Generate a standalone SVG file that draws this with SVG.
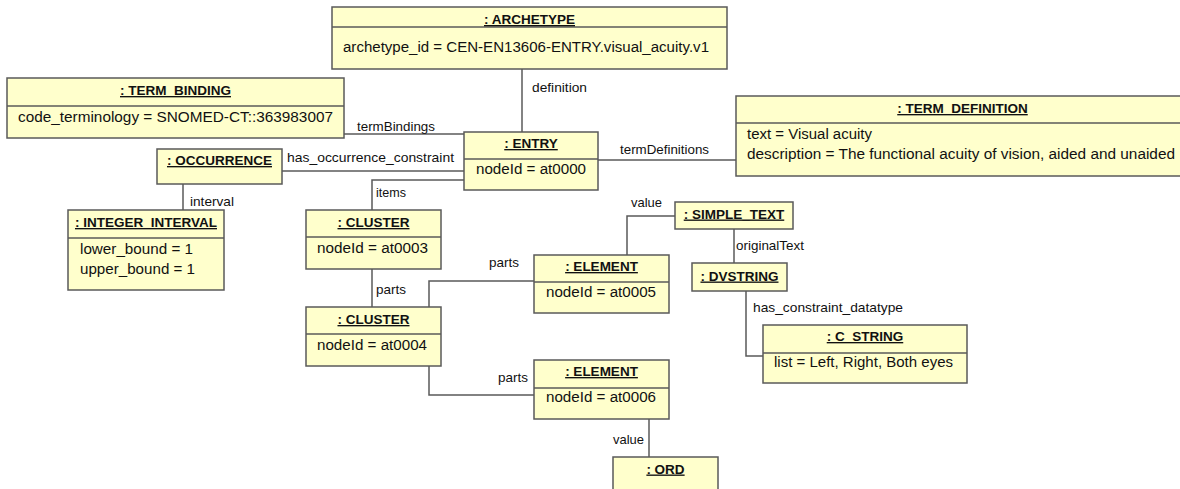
<svg xmlns="http://www.w3.org/2000/svg" width="1180" height="489" viewBox="0 0 1180 489">
<style>
.box{fill:#ffffcc;stroke:#5a5a5a;stroke-width:1.5}
.div{stroke:#5a5a5a;stroke-width:1.5}
.t{font-family:"Liberation Sans",Arial,sans-serif;font-size:13.5px;font-weight:bold;fill:#111;text-anchor:middle;text-decoration:underline}
.a{font-family:"Liberation Sans",Arial,sans-serif;font-size:14px;fill:#111}
.l{font-family:"Liberation Sans",Arial,sans-serif;font-size:13.5px;fill:#111}
.c{fill:none;stroke:#5a5a5a;stroke-width:1.5}
</style>
<rect width="1180" height="489" fill="#fff"/>
<g id="connectors">
<path class="c" d="M522,69V132"/>
<path class="c" d="M344,134H464"/>
<path class="c" d="M598,160H736"/>
<path class="c" d="M282,171H464"/>
<path class="c" d="M183,184V210"/>
<path class="c" d="M464,180H372V210"/>
<path class="c" d="M372,269V307"/>
<path class="c" d="M429,307V281H534"/>
<path class="c" d="M429,366V395H534"/>
<path class="c" d="M627,255V216H675"/>
<path class="c" d="M734,229V263"/>
<path class="c" d="M746,291V356H763"/>
<path class="c" d="M649,419V457"/>
<text class="l" x="532" y="91.5" textLength="55" lengthAdjust="spacingAndGlyphs">definition</text>
<text class="l" x="357" y="131" textLength="78" lengthAdjust="spacingAndGlyphs">termBindings</text>
<text class="l" x="620" y="154" textLength="89" lengthAdjust="spacingAndGlyphs">termDefinitions</text>
<text class="l" x="287" y="162" textLength="167" lengthAdjust="spacingAndGlyphs">has_occurrence_constraint</text>
<text class="l" x="190" y="206" textLength="44" lengthAdjust="spacingAndGlyphs">interval</text>
<text class="l" x="376" y="197" textLength="30" lengthAdjust="spacingAndGlyphs">items</text>
<text class="l" x="376" y="294" textLength="30" lengthAdjust="spacingAndGlyphs">parts</text>
<text class="l" x="489" y="267" textLength="30" lengthAdjust="spacingAndGlyphs">parts</text>
<text class="l" x="498" y="382" textLength="30" lengthAdjust="spacingAndGlyphs">parts</text>
<text class="l" x="631" y="207" textLength="31" lengthAdjust="spacingAndGlyphs">value</text>
<text class="l" x="736" y="249.5" textLength="68" lengthAdjust="spacingAndGlyphs">originalText</text>
<text class="l" x="753" y="312" textLength="150" lengthAdjust="spacingAndGlyphs">has_constraint_datatype</text>
<text class="l" x="613" y="443.5" textLength="31" lengthAdjust="spacingAndGlyphs">value</text>
</g>
<g id="archetype">
<rect class="box" x="332" y="7" width="395" height="62"/>
<line class="div" x1="332" y1="27" x2="727" y2="27"/>
<text class="t" x="529.5" y="24">: ARCHETYPE</text>
<text class="a" x="343" y="51.5" textLength="366" lengthAdjust="spacingAndGlyphs">archetype_id = CEN-EN13606-ENTRY.visual_acuity.v1</text>
</g>
<g id="term_binding">
<rect class="box" x="7" y="78" width="337" height="60"/>
<line class="div" x1="7" y1="106" x2="344" y2="106"/>
<text class="t" x="175.5" y="95">: TERM_BINDING</text>
<text class="a" x="18" y="122" textLength="315" lengthAdjust="spacingAndGlyphs">code_terminology = SNOMED-CT::363983007</text>
</g>
<g id="entry">
<rect class="box" x="464" y="132" width="134" height="58"/>
<line class="div" x1="464" y1="159" x2="598" y2="159"/>
<text class="t" x="531" y="148">: ENTRY</text>
<text class="a" x="476" y="174" textLength="110" lengthAdjust="spacingAndGlyphs">nodeId = at0000</text>
</g>
<g id="term_definition">
<rect class="box" x="736" y="96" width="453" height="80"/>
<line class="div" x1="736" y1="123" x2="1189" y2="123"/>
<text class="t" x="962.5" y="113">: TERM_DEFINITION</text>
<text class="a" x="747" y="139" textLength="125" lengthAdjust="spacingAndGlyphs">text = Visual acuity</text>
<text class="a" x="747" y="159" textLength="428" lengthAdjust="spacingAndGlyphs">description = The functional acuity of vision, aided and unaided</text>
</g>
<g id="occurrence">
<rect class="box" x="157" y="149" width="125" height="35"/>
<text class="t" x="219.5" y="165">: OCCURRENCE</text>
</g>
<g id="integer_interval">
<rect class="box" x="68" y="210" width="156" height="80"/>
<line class="div" x1="68" y1="238" x2="224" y2="238"/>
<text class="t" x="146" y="227">: INTEGER_INTERVAL</text>
<text class="a" x="80" y="254" textLength="113" lengthAdjust="spacingAndGlyphs">lower_bound = 1</text>
<text class="a" x="80" y="274" textLength="115" lengthAdjust="spacingAndGlyphs">upper_bound = 1</text>
</g>
<g id="cluster1">
<rect class="box" x="306" y="210" width="135" height="59"/>
<line class="div" x1="306" y1="237" x2="441" y2="237"/>
<text class="t" x="373.5" y="227">: CLUSTER</text>
<text class="a" x="317" y="253" textLength="111" lengthAdjust="spacingAndGlyphs">nodeId = at0003</text>
</g>
<g id="cluster2">
<rect class="box" x="306" y="307" width="135" height="59"/>
<line class="div" x1="306" y1="334" x2="441" y2="334"/>
<text class="t" x="373.5" y="324">: CLUSTER</text>
<text class="a" x="317" y="350" textLength="110" lengthAdjust="spacingAndGlyphs">nodeId = at0004</text>
</g>
<g id="element1">
<rect class="box" x="534" y="255" width="135" height="58"/>
<line class="div" x1="534" y1="282" x2="669" y2="282"/>
<text class="t" x="601.5" y="271">: ELEMENT</text>
<text class="a" x="546" y="297" textLength="110" lengthAdjust="spacingAndGlyphs">nodeId = at0005</text>
</g>
<g id="element2">
<rect class="box" x="534" y="360" width="135" height="59"/>
<line class="div" x1="534" y1="388" x2="669" y2="388"/>
<text class="t" x="601.5" y="376">: ELEMENT</text>
<text class="a" x="546" y="402" textLength="110" lengthAdjust="spacingAndGlyphs">nodeId = at0006</text>
</g>
<g id="simple_text">
<rect class="box" x="675" y="202" width="118" height="27"/>
<text class="t" x="734" y="218.5">: SIMPLE_TEXT</text>
</g>
<g id="dvstring">
<rect class="box" x="692" y="263" width="95" height="28"/>
<text class="t" x="739.5" y="280.5">: DVSTRING</text>
</g>
<g id="c_string">
<rect class="box" x="763" y="325" width="204" height="58"/>
<line class="div" x1="763" y1="353" x2="967" y2="353"/>
<text class="t" x="865" y="341">: C_STRING</text>
<text class="a" x="774" y="367" textLength="179" lengthAdjust="spacingAndGlyphs">list = Left, Right, Both eyes</text>
</g>
<g id="ord">
<rect class="box" x="613" y="457" width="105" height="40"/>
<text class="t" x="665.5" y="473.5">: ORD</text>
</g>
</svg>
